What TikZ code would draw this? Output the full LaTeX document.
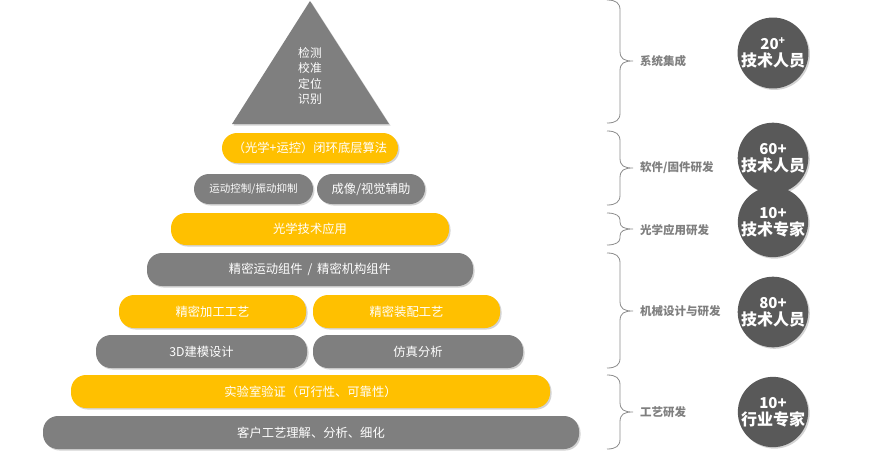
\documentclass[tikz,border=0pt]{standalone}
\usepackage{fontspec}
\setmainfont{Noto Sans CJK SC}
\usetikzlibrary{shadows}
\definecolor{gr}{HTML}{7F7F7F}
\definecolor{yel}{HTML}{FFC000}
\definecolor{dk}{HTML}{595959}
\definecolor{brc}{HTML}{8C8C8C}
\newcommand\mybrace[4]{%
  \draw[bracestyle] (607,#1) .. controls (616,#1) and (620,#1+3) .. (620,#1+#4)
    -- (620,#2-#4) .. controls (620,#2-2) and (624,#2) .. (633,#2)
    .. controls (624,#2) and (620,#2+2) .. (620,#2+#4)
    -- (620,#3-#4) .. controls (620,#3-3) and (616,#3) .. (607,#3);}
\begin{document}
\begin{tikzpicture}[x=1pt,y=-1pt,
  shd/.style={drop shadow={shadow xshift=1.5pt,shadow yshift=-1.5pt,opacity=0.35}},
  pill/.style={shd,rounded corners=15pt,inner sep=0pt,text=white,
    font=\fontsize{12.3}{13}\selectfont},
  ypill/.style={pill,fill=yel},
  gpill/.style={pill,fill=gr},
  lab/.style={anchor=west,text=gr,font=\fontsize{11.5}{12}\selectfont\bfseries,inner sep=0pt},
  circ/.style={circle,fill=dk,shd,minimum size=66pt,inner sep=0pt,text=white,align=center,
    font=\fontsize{15}{19}\selectfont\bfseries},
  bracestyle/.style={draw=brc,line width=0.8pt}]
\useasboundingbox (0,0) rectangle (869,453);
% triangle
\coordinate (ta) at (310,1);
\coordinate (tl) at (232,124);
\coordinate (tr) at (389,124);
\fill[gr,shd] (ta) -- (tl) -- (tr) -- cycle;
\node[text=white,align=center,font=\fontsize{11.8}{15.3}\selectfont] (tri) at (310,76) {检测\\校准\\定位\\识别};
% pills
\node[ypill,minimum width=176pt,minimum height=30pt] (p1) at (310,148) {（光学+运控）闭环底层算法};
\node[gpill,minimum width=119pt,minimum height=30pt,font=\fontsize{10.5}{12}\selectfont] (p2a) at (253.5,189) {运动控制/振动抑制};
\node[gpill,minimum width=108pt,minimum height=30pt] (p2b) at (371,189) {成像/视觉辅助};
\node[ypill,minimum width=278pt,minimum height=32pt] (p3) at (310,229) {光学技术应用};
\node[gpill,minimum width=326pt,minimum height=33pt] (p4) at (310,269.5) {精密运动组件 \,/\, 精密机构组件};
\node[ypill,minimum width=187pt,minimum height=33pt] (p5a) at (212.5,311.5) {精密加工工艺};
\node[ypill,minimum width=187pt,minimum height=33pt] (p5b) at (406.5,311.5) {精密装配工艺};
\node[gpill,minimum width=211pt,minimum height=33pt] (p6a) at (201.5,351.5) {3D建模设计};
\node[gpill,minimum width=210pt,minimum height=33pt] (p6b) at (418,351.5) {仿真分析};
\node[ypill,minimum width=479pt,minimum height=33pt] (p7) at (310.5,391.5) {实验室验证（可行性、可靠性）};
\node[gpill,minimum width=536pt,minimum height=33pt] (p8) at (311,432.5) {客户工艺理解、分析、细化};
% braces
\mybrace{0}{61}{123}{10}
\mybrace{131}{168}{205}{10}
\mybrace{213}{229}{245}{7}
\mybrace{253}{311}{368}{10}
\mybrace{375}{412}{449}{10}
% labels
\node[lab] (l1) at (640,61) {系统集成};
\node[lab] (l2) at (640,168) {软件/固件研发};
\node[lab] (l3) at (640,230) {光学应用研发};
\node[lab] (l4) at (640,311) {机械设计与研发};
\node[lab] (l5) at (640,412) {工艺研发};
% circles
\node[circ] (c1) at (773,53) {20\textsuperscript{+}\\[-2pt]{\fontsize{16}{19}\selectfont 技术人员}};
\node[circ] (c2) at (773,158) {60+\\[-2pt]{\fontsize{16}{19}\selectfont 技术人员}};
\node[circ] (c3) at (773,222) {10+\\[-2pt]{\fontsize{16}{19}\selectfont 技术专家}};
\node[circ] (c4) at (773,312) {80+\\[-2pt]{\fontsize{16}{19}\selectfont 技术人员}};
\node[circ] (c5) at (773,412) {10+\\[-2pt]{\fontsize{16}{19}\selectfont 行业专家}};
\end{tikzpicture}
\end{document}
